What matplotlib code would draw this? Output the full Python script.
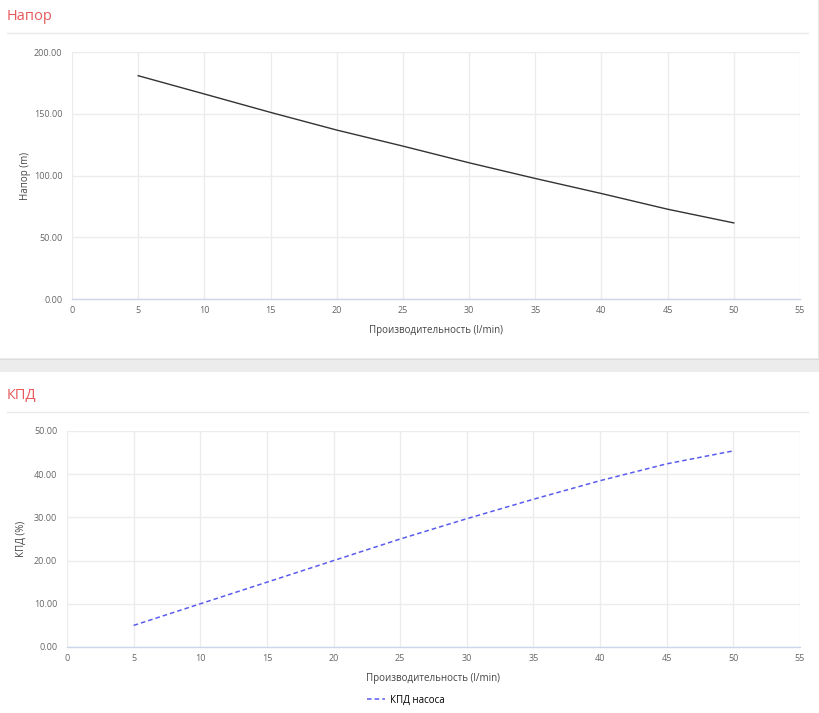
import matplotlib.pyplot as plt
from matplotlib.lines import Line2D
from matplotlib.patches import Rectangle

plt.rcParams['font.family'] = ['Open Sans', 'DejaVu Sans']

# data
flow = [5, 10, 15, 20, 25, 30, 35, 40, 45, 50]
head = [180.8, 166.0, 151.1, 136.8, 123.8, 110.3, 97.6, 85.4, 72.7, 61.6]
eff = [5.0, 10.0, 15.0, 20.0, 25.0, 29.7, 34.2, 38.5, 42.4, 45.4]

x_ticks = list(range(0, 56, 5))
head_ticks = [0, 50, 100, 150, 200]
eff_ticks = [0, 10, 20, 30, 40, 50]

W, H = 820, 713
fig = plt.figure(figsize=(W / 100, H / 100), dpi=100)

title_col = "#e8595b"
grid_col = "#ececec"
axis_col = "#ccd6eb"
tick_col = "#666666"


def fx(px):
    return px / W


def fy(py):
    return 1 - py / H


# panel decorations
fig.add_artist(Rectangle((0, fy(372)), 1, (372 - 358) / H, transform=fig.transFigure,
                         facecolor="#ececec", edgecolor="none"))
fig.add_artist(Line2D([0, 1], [fy(358.5), fy(358.5)], transform=fig.transFigure,
                      color="#dcdcdc", lw=0.8))
fig.add_artist(Line2D([fx(818), fx(818)], [fy(0), fy(358)], transform=fig.transFigure,
                      color="#e6e6e6", lw=0.8))
for y in (33.3, 412.3):
    fig.add_artist(Line2D([fx(7), fx(808)], [fy(y), fy(y)], transform=fig.transFigure,
                          color="#eaeaea", lw=1))
fig.text(fx(7), fy(17), "Напор", color=title_col, fontsize=10.5, va="center", ha="left")
fig.text(fx(7), fy(396), "КПД", color=title_col, fontsize=10.5, va="center", ha="left")


def style(ax, yticks):
    ax.set_xlim(0, 55)
    ax.set_ylim(yticks[0], yticks[-1])
    ax.set_xticks(x_ticks)
    ax.set_yticks(yticks)
    ax.set_xticklabels([str(t) for t in x_ticks])
    ax.set_yticklabels(["%.2f" % t for t in yticks])
    ax.grid(True, color=grid_col, lw=1)
    ax.set_axisbelow(True)
    for s in ("top", "right", "left"):
        ax.spines[s].set_visible(False)
    ax.spines["bottom"].set_color(axis_col)
    ax.spines["bottom"].set_linewidth(1)
    ax.tick_params(length=0, labelsize=6.5, colors=tick_col)
    ax.tick_params(axis="x", pad=5)
    ax.tick_params(axis="y", pad=7)
    ax.set_xlabel("Производительность (l/min)", fontsize=7, color="#444444", labelpad=7)


ax1 = fig.add_axes([fx(72), fy(299), fx(800) - fx(72), (299 - 52) / H])
ax1.plot(flow, head, color="#333333", lw=1)
style(ax1, head_ticks)
ax1.set_ylabel("Напор (m)", fontsize=7, color="#444444")
ax1.yaxis.set_label_coords((31 - 72) / 728, 0.5)

ax2 = fig.add_axes([fx(67), fy(647), fx(800) - fx(67), (647 - 431) / H])
ax2.plot(flow, eff, color="#5b5bf0", lw=1.1, ls=(0, (3, 2)), label="КПД насоса")
style(ax2, eff_ticks)
ax2.set_ylabel("КПД (%)", fontsize=7, color="#444444")
ax2.yaxis.set_label_coords((27 - 67) / 733, 0.5)
ax2.legend(loc="center", bbox_to_anchor=(fx(406), fy(700)), bbox_transform=fig.transFigure,
           frameon=False, fontsize=7, handlelength=1.8, handletextpad=0.5)

fig.savefig("out.png", dpi=100, facecolor="white")
